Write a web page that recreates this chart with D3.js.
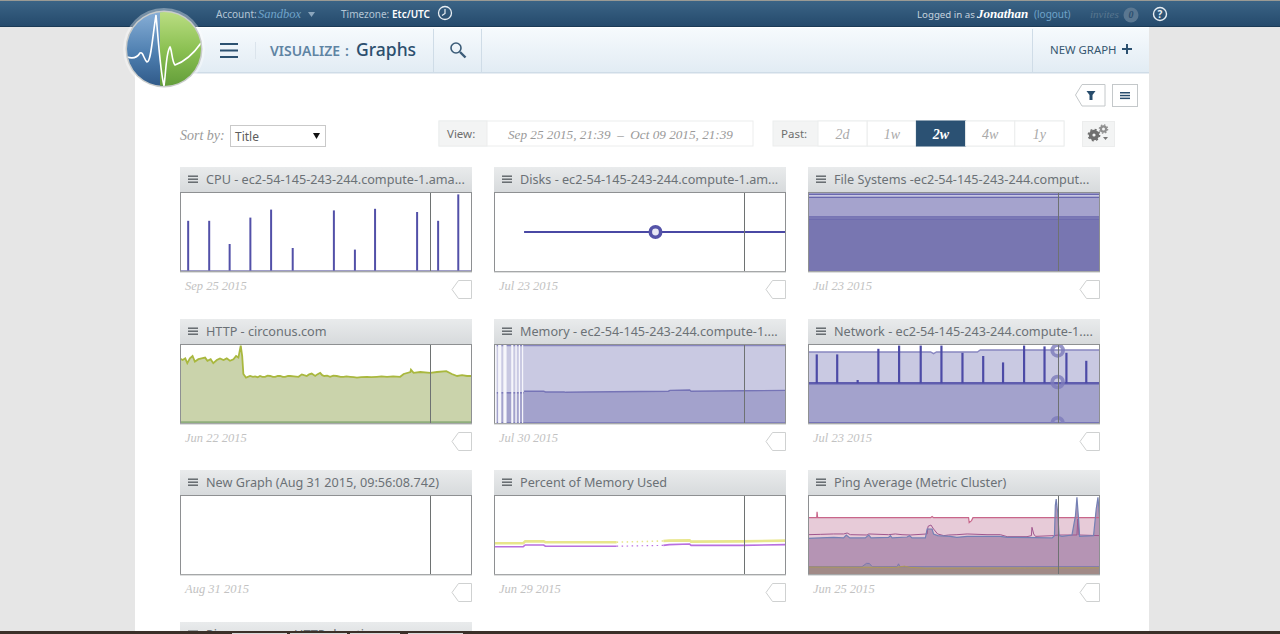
<!DOCTYPE html>
<html>
<head>
<meta charset="utf-8">
<title>Visualize : Graphs</title>
<script src="https://cdnjs.cloudflare.com/ajax/libs/d3/7.8.5/d3.min.js"></script>
<style>
html, body { margin: 0; padding: 0; background: #e6e6e6; overflow: hidden; }
svg { display: block; }
text { font-family: "Noto Sans", sans-serif; }
.serif { font-family: "Liberation Serif", serif; font-style: italic; }
</style>
</head>
<body>
<svg id="chart" width="1280" height="634"></svg>
<script>
// panel text
const panelTitles = [
  'CPU - ec2-54-145-243-244.compute-1.ama...',
  'Disks - ec2-54-145-243-244.compute-1.am...',
  'File Systems -ec2-54-145-243-244.comput...',
  'HTTP - circonus.com',
  'Memory - ec2-54-145-243-244.compute-1....',
  'Network - ec2-54-145-243-244.compute-1....',
  'New Graph (Aug 31 2015, 09:56:08.742)',
  'Percent of Memory Used',
  'Ping Average (Metric Cluster)',
  'Ping average - HTTP duration'
]
const panelDates = [
  'Sep 25 2015', 'Jul 23 2015', 'Jul 23 2015',
  'Jun 22 2015', 'Jul 30 2015', 'Jul 23 2015',
  'Aug 31 2015', 'Jun 29 2015', 'Jun 25 2015', ''
]
const pastRanges = ['2d', '1w', '2w', '4w', '1y']

// all x values are percent of the graph window, y values percent of graph height
const nowMarker = 85.6

const cpuX = [2.8, 10.0, 17.0, 24.1, 31.2, 38.6, 52.7, 59.9, 66.8, 81.2, 88.4, 95.3]
const cpuValues = [64, 64, 35, 68, 78, 30, 77, 28, 79, 75, 64, 97]

const disksX = [10.3, 100]
const disksValues = [50, 50]
const disksPoint = [55.3, 50]

const fileLevels = [97, 93.4, 69, 66]

const httpX = [0, 0.9, 1.8, 2.5, 3.4, 4.3, 5.1, 6.3, 7.4, 8.6, 9.4, 10.5, 11.4, 12.6, 13.7, 14.9, 16, 17.1, 18.3, 19.2, 20, 20.8, 21.3, 21.7,
  22.6, 24, 25, 25.7, 26.6, 27.4, 28.2, 29.1, 30, 30.9, 31.8, 32.6, 33.5, 34.3, 35.2, 36, 37, 37.7, 39, 40.6, 41.7, 42.5, 43.4, 44.2, 45.1, 46.3, 47, 48, 48.7, 49.4, 50.4, 51.4, 52.5, 53.7, 55, 56, 57, 58.3, 59.5, 60.6, 62, 64, 65.5, 67.4, 69, 70.9, 73, 75.4,
  76.6, 78.9, 79.1, 80, 82.3, 85.7, 88, 91.2, 93.1, 94.9, 96.6, 98.3, 100]
const httpValues = [82, 80, 82, 76, 82, 85, 78, 81, 82, 83, 79, 81, 76, 80, 82, 80, 82, 79, 81, 85, 83, 98, 85, 62.5,
  58, 60, 59, 59.5, 58.5, 60, 59, 59, 60.5, 60, 59, 59, 60, 60, 59, 59, 60, 60, 59.5, 59, 62, 61, 60, 62, 63, 60, 62, 64, 61, 60, 60.5, 59, 60.5, 60, 59, 59, 59.5, 59, 58.5, 58, 58.5, 59, 58.5, 59, 59.5, 59, 59.5, 59,
  62.5, 65, 68, 64, 65, 64, 65, 66, 62.5, 60, 61, 60, 60]
const httpFloor = 2

const memoryX = [10.3, 17, 17.6, 24, 24.6, 31, 59.7, 60.3, 67, 67.5, 85, 100]
const memoryUsed = [41, 41, 40, 40, 39.6, 40, 41, 42, 42.5, 41, 41.5, 42]
const memoryStripeX = [0, 10.3]
const memoryStripeUsed = [39, 39]
const memoryTotal = 98
const memoryGaps = [[0.2, 0.9], [1.4, 2.5], [3.2, 4.3], [5.9, 6.6], [7.3, 7.8], [8.5, 8.9], [9.6, 10.0]]

const netSpikeX = [3.0, 10.0, 17.0, 24.1, 31.2, 38.6, 45.7, 52.9, 60, 66.8, 74, 81, 88.5, 95.3]
const netSpikeValues = [87, 87, 55, 94, 98, 98, 98, 89, 85, 77, 98, 97, 89, 79]
const netTopX = [0, 42, 43, 44, 58, 59, 100]
const netTopValues = [90, 90, 88, 90, 90, 92.5, 92.5]
const netBase = 51
const netFloor = 1.2
const netPointX = 85.5
const netPointValues = [92, 52.5, 1]

const pctLeftX = [0, 10, 10.7, 17, 17.6, 42]
const pctRightX = [58, 60, 67, 67.5, 85, 100]
const pctMiddleX = [42, 58]
const pctYellowLeft = [39.6, 39.6, 42, 42, 41, 41]
const pctYellowRight = [42.5, 43, 43.3, 41.7, 42, 43]
const pctYellowMiddle = [41, 42.5]
const pctPurpleLeft = [35.4, 35.4, 37.5, 37.5, 36, 36]
const pctPurpleRight = [37, 38, 38.7, 37, 37, 38]
const pctPurpleMiddle = [36, 37]

const pingPinkX = [0, 3, 3.1, 3.3, 42, 42.5, 43, 55, 55.2, 56, 56.5, 100]
const pingPinkValues = [71.7, 71.7, 79, 71.7, 71.7, 73, 71.7, 71.7, 65.5, 68, 71.7, 71.7]
const pingUpperX = [0, 4.2, 8.8, 12.2, 13.4, 14.5, 20.2, 20.8, 27.6, 29.9, 32.2, 35, 40.8, 41.1, 42.1, 43, 44.4, 46.5, 48.2, 51, 54.5, 61.3, 65.9, 68.2, 75, 76.5, 76.7, 77.3, 77.9, 84.1, 85.8, 92.1, 92.4, 92.8, 100]
const pingUpperValues = [50.4, 50.8, 51.3, 51.3, 52.5, 50.4, 50, 51.3, 50.4, 51.3, 50.4, 50, 51.3, 60.8, 62.5, 57.5, 51.3, 49.2, 50, 50.4, 51.3, 50.4, 50.4, 47.9, 47.9, 49.2, 59.6, 51.3, 48.3, 49.2, 50, 50, 70, 50, 49.2]
const pingLowerX = [0, 4.2, 8.8, 12.2, 13.1, 14.3, 19.6, 20.8, 21.6, 27.6, 28.2, 28.8, 33.9, 34.8, 35.6, 40.2, 40.8, 42.5, 43, 44.4, 48.7, 51, 54.5, 65.9, 68.2, 83.6, 84.4, 84.7, 85, 85.5, 86, 87, 90.4, 91.6, 92.1, 92.7, 93, 97.8, 98.7, 99.3, 99.9, 100]
const pingLowerValues = [45.8, 46.3, 47.1, 46.3, 50, 46.3, 46.3, 50, 46.3, 47.1, 49.2, 46.3, 47.5, 49.2, 46.3, 46.3, 57.5, 57.5, 51.3, 49.2, 48.3, 47.1, 48.3, 48.3, 47.1, 46.3, 49.2, 86.7, 95, 78.3, 49.2, 48.3, 50, 74.2, 97, 67.9, 48.3, 49.2, 82.5, 97, 70, 48.3]
const pingBlueX = [0, 18.5, 20, 21, 22, 30.5, 31, 31.5, 100]
const pingBlueValues = [10.4, 10.4, 14.5, 14.5, 10.4, 10.4, 14, 10.4, 10.4]
const pingTanX = [0, 30, 33, 35, 40, 100]
const pingTanValues = [10, 9.5, 11, 9.5, 8.6, 9]

// browser tabs peeking in at the bottom edge
const tabStarts = [232, 290, 350, 408]
const tabWidths = [55, 57, 50, 55]

// layout
const columns = [180, 494, 808]
const rows = [167, 319, 470, 622]
const panelWidth = 292
const headerHeight = 25
const plotHeight = 80

const svg = d3.select('#chart')
const defs = svg.append('defs')

function gradient(id, stops, x2 = 0, y2 = 1) {
  const g = defs.append('linearGradient').attr('id', id)
    .attr('x1', 0).attr('y1', 0).attr('x2', x2).attr('y2', y2)
  stops.forEach(s => g.append('stop').attr('offset', s[0]).attr('stop-color', s[1]))
}
gradient('topbar', [[0, '#3c6587'], [1, '#24496b']])
gradient('subbar', [[0, '#f6fafd'], [1, '#e2ecf4']])
gradient('panelhead', [[0, '#e9ebec'], [1, '#d7dadc']])
gradient('logoblue', [[0, '#8db3da'], [0.55, '#4e7fb0'], [1, '#2c5584']])
gradient('logogreen', [[0, '#bfe087'], [0.5, '#8cc153'], [1, '#5f9a37']])

function label(parent, x, y, str, size, fill, opts = {}) {
  return parent.append('text')
    .attr('x', x).attr('y', y)
    .attr('font-size', size)
    .attr('fill', fill)
    .attr('text-anchor', opts.anchor || 'start')
    .attr('font-weight', opts.weight || null)
    .attr('class', opts.serif ? 'serif' : null)
    .text(str)
}

function burger(parent, x, y, w, gap, thick, color) {
  d3.range(3).forEach(i => parent.append('rect')
    .attr('x', x).attr('y', y + i * gap).attr('width', w).attr('height', thick).attr('fill', color))
}

function drawPage() {
  svg.append('rect').attr('width', 1280).attr('height', 634).attr('fill', '#e6e6e6')
  svg.append('rect').attr('x', 135).attr('y', 27).attr('width', 1014).attr('height', 607).attr('fill', '#fff')

  // top bar
  svg.append('rect').attr('width', 1280).attr('height', 27).attr('fill', 'url(#topbar)')
  svg.append('rect').attr('width', 1280).attr('height', 1).attr('fill', '#9a9a94')
  svg.append('rect').attr('y', 26).attr('width', 1280).attr('height', 1).attr('fill', '#1b3a56')
  label(svg, 216, 17.5, 'Account:', 10, '#b4c6d6')
  label(svg, 258, 18, 'Sandbox', 12.5, '#6fa3c9', { serif: true })
  svg.append('path').attr('d', 'M308 12h7l-3.5 5z').attr('fill', '#8ba6bd')
  label(svg, 341, 17.5, 'Timezone:', 10, '#b4c6d6')
  label(svg, 392, 17.5, 'Etc/UTC', 10, '#fff', { weight: 600 })
  svg.append('circle').attr('cx', 445).attr('cy', 13).attr('r', 6.5)
    .attr('fill', 'none').attr('stroke', '#e8eef3').attr('stroke-width', 1.3)
  svg.append('path').attr('d', 'M445 9v4.5l-3 2').attr('fill', 'none').attr('stroke', '#e8eef3').attr('stroke-width', 1.2)
  label(svg, 917, 17.5, 'Logged in as', 9.7, '#c4d2de')
  label(svg, 977, 18, 'Jonathan', 13, '#fff', { serif: true, weight: 700 })
  label(svg, 1034, 17.5, '(logout)', 10, '#6fa3c9')
  label(svg, 1090, 18, 'invites', 11, '#58768f', { serif: true })
  svg.append('circle').attr('cx', 1131).attr('cy', 15).attr('r', 7.5).attr('fill', '#5a7791')
  label(svg, 1131, 18, '0', 10, '#2c4f6f', { anchor: 'middle', serif: true, weight: 700 })
  svg.append('circle').attr('cx', 1160).attr('cy', 14).attr('r', 6.5)
    .attr('fill', 'none').attr('stroke', '#e8eef3').attr('stroke-width', 1.4)
  label(svg, 1160, 18, '?', 10, '#e8eef3', { anchor: 'middle', weight: 700 })

  // sub header
  svg.append('rect').attr('x', 135).attr('y', 28).attr('width', 1014).attr('height', 44).attr('fill', 'url(#subbar)')
  svg.append('rect').attr('x', 135).attr('y', 72).attr('width', 1014).attr('height', 1.5).attr('fill', '#cfdce7')
  ;[433, 481, 1032].forEach(x => svg.append('rect').attr('x', x).attr('y', 29).attr('width', 1).attr('height', 43).attr('fill', '#cfdce7'))
  svg.append('rect').attr('x', 255).attr('y', 42).attr('width', 1).attr('height', 17).attr('fill', '#dbe4ec')
  burger(svg, 220, 43, 18, 6.5, 2, '#2c5170')
  label(svg, 270, 55.5, 'VISUALIZE', 14, '#5f84a3', { weight: 600 })
  label(svg, 345, 55.5, ':', 14, '#5f84a3', { weight: 600 })
  label(svg, 356, 56, 'Graphs', 17.5, '#2c4f6e', { weight: 500 })
  svg.append('circle').attr('cx', 456).attr('cy', 48).attr('r', 5).attr('fill', 'none').attr('stroke', '#3b5c78').attr('stroke-width', 1.6)
  svg.append('path').attr('d', 'M460 52l5.5 5.5').attr('stroke', '#3b5c78').attr('stroke-width', 2.4)
  label(svg, 1050, 54, 'NEW GRAPH', 11.4, '#35566f')
  svg.append('path').attr('d', 'M1127 44v10M1122 49h10').attr('stroke', '#2c5170').attr('stroke-width', 2)

  // logo
  svg.append('circle').attr('cx', 164).attr('cy', 49).attr('r', 41).attr('fill', '#fff').attr('opacity', 0.35)
  svg.append('circle').attr('cx', 164).attr('cy', 49).attr('r', 38.5).attr('fill', '#c9cccb')
  defs.append('clipPath').attr('id', 'logoclip').append('circle').attr('cx', 164).attr('cy', 49).attr('r', 37)
  const logo = svg.append('g').attr('clip-path', 'url(#logoclip)')
  logo.append('rect').attr('x', 120).attr('y', 8).attr('width', 44).attr('height', 82).attr('fill', 'url(#logoblue)')
  logo.append('rect').attr('x', 160).attr('y', 8).attr('width', 46).attr('height', 82).attr('fill', 'url(#logogreen)')
  logo.append('path')
    .attr('d', 'M127 57C133 59 137 58 140 53C143 51 144 60 147 62C151 62 152 40 156 15C158 35 160 70 164 86C166 72 166 52 170 47C172 50 172 62 175 65C183 62 192 56 201 43')
    .attr('fill', 'none').attr('stroke', '#fff').attr('stroke-width', 1.6)

  // tool buttons
  svg.append('path').attr('d', 'M1105 84.5H1082L1075.5 95L1082 106H1105Z').attr('fill', '#fff').attr('stroke', '#c4c8ca')
  svg.append('path').attr('d', 'M1086.5 91h9l-3 4v5h-3v-5z').attr('fill', '#274c6c')
  svg.append('rect').attr('x', 1112.5).attr('y', 84.5).attr('width', 25).attr('height', 22).attr('fill', '#fff').attr('stroke', '#c4c8ca')
  burger(svg, 1120, 92, 10, 2.8, 1.5, '#274c6c')

  // sort by
  label(svg, 180, 140, 'Sort by:', 14, '#9a9a9a', { serif: true })
  svg.append('rect').attr('x', 230.5).attr('y', 125.5).attr('width', 95).attr('height', 21).attr('fill', '#fff').attr('stroke', '#c9c9c9')
  label(svg, 235, 141, 'Title', 12, '#5d5d5d')
  svg.append('path').attr('d', 'M313 133h7l-3.5 6z').attr('fill', '#111')

  // view range
  svg.append('rect').attr('x', 439).attr('y', 121).attr('width', 314).attr('height', 25).attr('fill', '#fff').attr('stroke', '#eceded')
  svg.append('rect').attr('x', 439).attr('y', 121).attr('width', 48).attr('height', 25).attr('fill', '#f3f4f4').attr('stroke', '#eceded')
  label(svg, 447, 138, 'View:', 11.5, '#6e6e6e')
  label(svg, 508, 139, 'Sep 25 2015, 21:39\u2002\u2013\u2002Oct 09 2015, 21:39', 13.2, '#9a9a9a', { serif: true })

  // past range buttons
  const pastX = d3.scaleBand().domain(pastRanges).range([818, 1064])
  svg.append('rect').attr('x', 773).attr('y', 121).attr('width', 291).attr('height', 25).attr('fill', '#f3f4f4').attr('stroke', '#eceded')
  label(svg, 781, 138, 'Past:', 11.5, '#6e6e6e')
  pastRanges.forEach(r => {
    const active = r === '2w'
    svg.append('rect').attr('x', pastX(r)).attr('y', 121).attr('width', pastX.bandwidth()).attr('height', 25)
      .attr('fill', active ? '#2b5173' : '#fff').attr('stroke', active ? '#2b5173' : '#eceded')
    label(svg, pastX(r) + pastX.bandwidth() / 2, 139, r, 14, active ? '#fff' : '#aaa', { anchor: 'middle', serif: true, weight: active ? 700 : null })
  })

  // settings gears
  svg.append('rect').attr('x', 1082.5).attr('y', 121.5).attr('width', 32).attr('height', 25).attr('fill', '#f3f4f4').attr('stroke', '#eceded')
  svg.append('circle').attr('cx', 1094).attr('cy', 135).attr('r', 3.4).attr('fill', 'none').attr('stroke', '#6f6f6f').attr('stroke-width', 3.6)
  svg.append('circle').attr('cx', 1094).attr('cy', 135).attr('r', 5.6).attr('fill', 'none').attr('stroke', '#6f6f6f').attr('stroke-width', 1.6).attr('stroke-dasharray', '2 2.4')
  svg.append('circle').attr('cx', 1103.5).attr('cy', 129).attr('r', 2.6).attr('fill', 'none').attr('stroke', '#8f8f8f').attr('stroke-width', 2.2)
  svg.append('circle').attr('cx', 1103.5).attr('cy', 129).attr('r', 4.2).attr('fill', 'none').attr('stroke', '#8f8f8f').attr('stroke-width', 1.2).attr('stroke-dasharray', '1.5 1.8')
  svg.append('path').attr('d', 'M1103 137h5l-2.5 3z').attr('fill', '#777')
}

// one graph tile: header, framed plot, date and tag; returns the plot group and scales
function tile(i) {
  const px = columns[i % 3]
  const py = rows[Math.floor(i / 3)]
  const g = svg.append('g').attr('transform', `translate(${px},${py})`)
  g.append('rect').attr('width', panelWidth).attr('height', headerHeight).attr('fill', 'url(#panelhead)')
  burger(g, 8, 8.5, 10, 3, 1.4, '#5d6266')
  label(g, 26, 17, panelTitles[i], 12.65, '#6b7176')

  const x = d3.scaleLinear().domain([0, 100]).range([0, panelWidth])
  const y = d3.scaleLinear().domain([0, 100]).range([plotHeight, 0])
  const clipId = 'plot' + i
  defs.append('clipPath').attr('id', clipId).append('rect').attr('width', panelWidth).attr('height', plotHeight)

  const frame = g.append('g').attr('transform', `translate(0,${headerHeight})`)
  frame.append('rect').attr('width', panelWidth).attr('height', plotHeight).attr('fill', '#fff')
  const plot = frame.append('g').attr('clip-path', `url(#${clipId})`)

  const finish = () => {
    const markerX = Math.round(x(nowMarker)) + 0.5
    frame.append('line').attr('x1', markerX).attr('x2', markerX).attr('y1', 0).attr('y2', plotHeight)
      .attr('stroke', '#6e7272').attr('stroke-width', 1)
    frame.append('rect').attr('x', 0.5).attr('y', 0.5).attr('width', panelWidth - 1).attr('height', plotHeight - 1)
      .attr('fill', 'none').attr('stroke', '#8e9092')
    frame.append('rect').attr('x', 0).attr('y', plotHeight - 0.5).attr('width', panelWidth).attr('height', 1)
      .attr('fill', '#bdbfc0')
    if (panelDates[i]) {
      label(g, 5, 123, panelDates[i], 12.5, '#c2c2c2', { serif: true })
      g.append('path').attr('d', `M${panelWidth - 0.5} 113.5H${panelWidth - 13.5}L${panelWidth - 20} 122.5L${panelWidth - 13.5} 131.5H${panelWidth - 0.5}Z`)
        .attr('fill', '#fff').attr('stroke', '#cfd1d1')
    }
  }
  return { plot, x, y, finish }
}

function drawLine(t, xs, ys, color, width, dash) {
  const line = d3.line().x(d => t.x(d[0])).y(d => t.y(d[1]))
  t.plot.append('path').datum(d3.zip(xs, ys)).attr('d', line)
    .attr('fill', 'none').attr('stroke', color).attr('stroke-width', width)
    .attr('stroke-dasharray', dash || null)
}

function drawArea(t, xs, ys, color, base = 0) {
  const area = d3.area().x(d => t.x(d[0])).y0(t.y(base)).y1(d => t.y(d[1]))
  t.plot.append('path').datum(d3.zip(xs, ys)).attr('d', area).attr('fill', color)
}

function drawSpikes(t, xs, ys, base, color, width) {
  t.plot.selectAll(null).data(d3.zip(xs, ys)).join('line')
    .attr('x1', d => t.x(d[0])).attr('x2', d => t.x(d[0]))
    .attr('y1', t.y(base)).attr('y2', d => t.y(d[1]))
    .attr('stroke', color).attr('stroke-width', width)
}

function drawCpu(t) {
  drawSpikes(t, cpuX, cpuValues, 0, '#5250a8', 2)
  drawLine(t, [0, 100], [0.8, 0.8], '#7f7db5', 2.4)
}

function drawDisks(t) {
  drawLine(t, disksX, disksValues, '#4a48a4', 2)
  t.plot.append('circle').attr('cx', t.x(disksPoint[0])).attr('cy', t.y(disksPoint[1])).attr('r', 5.2)
    .attr('fill', '#e8e8f4').attr('stroke', '#5553a8').attr('stroke-width', 3.6)
}

function drawFiles(t) {
  drawArea(t, [0, 100], [100, 100], '#a5a3cd')
  drawArea(t, [0, 100], [fileLevels[2], fileLevels[2]], '#8a88bd')
  drawArea(t, [0, 100], [fileLevels[3], fileLevels[3]], '#7876b1')
  t.plot.append('rect').attr('x', 0).attr('width', panelWidth)
    .attr('y', t.y(fileLevels[0]) + 0.5).attr('height', t.y(fileLevels[1]) - t.y(fileLevels[0]) - 1).attr('fill', '#c9c8e2')
  fileLevels.forEach(v => drawLine(t, [0, 100], [v, v], '#6a68ae', 1.2))
}

function drawHttp(t) {
  drawArea(t, httpX, httpValues, '#cad3ab')
  drawLine(t, httpX, httpValues, '#a9b83e', 1.8)
  drawLine(t, [0, 100], [httpFloor, httpFloor], '#8fae7d', 2.4)
}

function drawMemory(t) {
  drawArea(t, [0, 100], [memoryTotal, memoryTotal], '#c9c9e2')
  drawArea(t, memoryX, memoryUsed, '#a3a2cc')
  drawArea(t, memoryStripeX, memoryStripeUsed, '#a3a2cc')
  drawLine(t, [0, 100], [memoryTotal, memoryTotal], '#8886c0', 1.4)
  drawLine(t, memoryX, memoryUsed, '#7674b6', 1.4)
  drawLine(t, memoryStripeX, memoryStripeUsed, '#7674b6', 1.4)
  drawLine(t, [0, 100], [0.8, 0.8], '#7674b6', 2)
  t.plot.selectAll(null).data(memoryGaps).join('rect')
    .attr('x', d => t.x(d[0])).attr('width', d => t.x(d[1]) - t.x(d[0]))
    .attr('y', 0).attr('height', plotHeight).attr('fill', '#f6f6fb')
}

function drawNetwork(t) {
  drawArea(t, netTopX, netTopValues, '#c9c9e2')
  drawArea(t, [0, 100], [netBase, netBase], '#a3a2cc')
  drawLine(t, netTopX, netTopValues, '#8886c0', 1.4)
  drawLine(t, [0, 100], [netBase, netBase], '#5f5dae', 2.4)
  drawSpikes(t, netSpikeX, netSpikeValues, netBase, '#4c4aa6', 2.2)
  drawLine(t, [0, 100], [netFloor, netFloor], '#7674b6', 2)
  t.plot.selectAll(null).data(netPointValues).join('circle')
    .attr('cx', t.x(netPointX)).attr('cy', d => t.y(d)).attr('r', 5.4)
    .attr('fill', 'none').attr('stroke', '#7c7aba').attr('stroke-opacity', 0.8).attr('stroke-width', 3.8)
}

function drawPercent(t) {
  drawLine(t, pctLeftX, pctYellowLeft, '#e8e68c', 2.6)
  drawLine(t, pctRightX, pctYellowRight, '#e8e68c', 2.6)
  drawLine(t, pctMiddleX, pctYellowMiddle, '#e8e68c', 1.6, '1.5 3.5')
  drawLine(t, pctLeftX, pctPurpleLeft, '#b86fe0', 1.6)
  drawLine(t, pctRightX, pctPurpleRight, '#b86fe0', 1.6)
  drawLine(t, pctMiddleX, pctPurpleMiddle, '#b86fe0', 1.2, '1.5 3.5')
}

function drawPing(t) {
  drawArea(t, pingPinkX, pingPinkValues, '#e7cbd8')
  drawArea(t, pingLowerX, pingLowerValues, '#b594b4')
  drawArea(t, pingBlueX, pingBlueValues, '#9f8ea8')
  drawArea(t, pingTanX, pingTanValues, '#a18a87')
  drawLine(t, pingPinkX, pingPinkValues, '#c8668a', 1.2)
  drawLine(t, pingUpperX, pingUpperValues, '#a0568e', 1)
  drawLine(t, pingLowerX, pingLowerValues, '#7480b4', 1.2)
  drawLine(t, pingBlueX, pingBlueValues, '#7c78ad', 1)
  drawLine(t, pingTanX, pingTanValues, '#b09a55', 1)
}

drawPage()

const renderers = [drawCpu, drawDisks, drawFiles, drawHttp, drawMemory, drawNetwork, null, drawPercent, drawPing, null]
renderers.forEach((render, i) => {
  const t = tile(i)
  if (render) render(t)
  t.finish()
})

// window edge below the page
svg.append('rect').attr('y', 631).attr('width', 1280).attr('height', 3).attr('fill', '#3b3029')
svg.selectAll('.tab').data(d3.zip(tabStarts, tabWidths)).join('rect')
  .attr('class', 'tab')
  .attr('x', d => d[0]).attr('y', 633).attr('width', d => d[1]).attr('height', 1).attr('fill', '#d8d8d8')
</script>
</body>
</html>
